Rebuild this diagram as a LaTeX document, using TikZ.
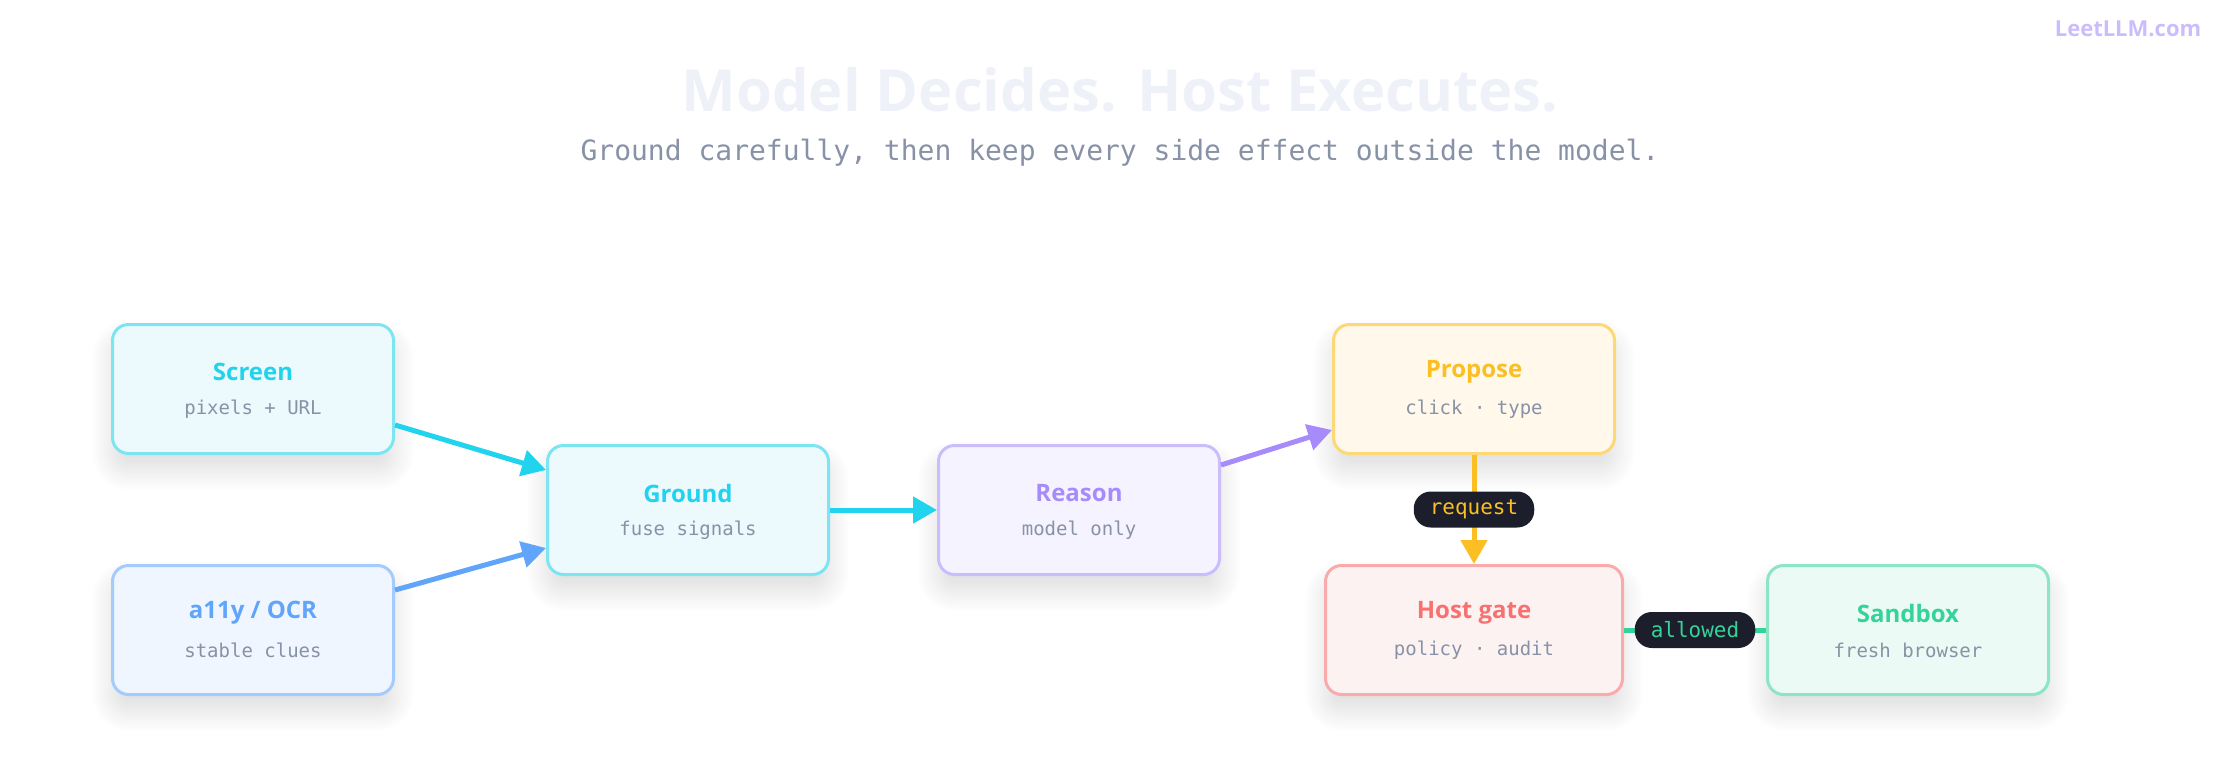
\documentclass[tikz,border=0pt]{standalone}
\usepackage{fontspec}
\setmainfont{Open Sans}
\newfontfamily\monof{DejaVu Sans Mono}
\newfontfamily\logof{DejaVu Sans}
\usetikzlibrary{shadows.blur,arrows.meta}
\definecolor{cyanS}{HTML}{22D3EE}\definecolor{cyanB}{HTML}{7DE4F2}\definecolor{cyanF}{HTML}{ECFAFE}
\definecolor{blueS}{HTML}{60A5FA}\definecolor{blueB}{HTML}{A3CBFB}\definecolor{blueF}{HTML}{EFF6FF}
\definecolor{purS}{HTML}{A78BFA}\definecolor{purB}{HTML}{CBBDFC}\definecolor{purF}{HTML}{F5F3FF}
\definecolor{yelS}{HTML}{FBBF24}\definecolor{yelB}{HTML}{FCD877}\definecolor{yelF}{HTML}{FFF8EB}
\definecolor{redS}{HTML}{F87171}\definecolor{redB}{HTML}{F9AAAA}\definecolor{redF}{HTML}{FDF2F2}
\definecolor{grnS}{HTML}{34D399}\definecolor{grnB}{HTML}{8CE5C4}\definecolor{grnF}{HTML}{EBFAF4}
\definecolor{grayT}{HTML}{8892A6}\definecolor{pill}{HTML}{1C1F2B}\definecolor{titleC}{HTML}{EEF2F8}
\begin{document}
\begin{tikzpicture}[x=1pt,y=-1pt,
 box/.style={draw=#1B,fill=#1F,line width=3pt,rounded corners=16pt,minimum width=281pt,minimum height=129pt,
   blur shadow={shadow xshift=0pt,shadow yshift=-16pt,shadow blur radius=22pt,shadow blur steps=20,shadow opacity=14}},
 ttl/.style={font=\bfseries\fontsize{24}{28}\selectfont,text=#1},
 sub/.style={font=\monof\fontsize{19}{22}\selectfont,text=grayT},
 con/.style={line width=5pt,draw=#1,-{Triangle[length=24pt,width=26pt]}},
 lab/.style={fill=pill,rounded corners=17pt,inner xsep=16pt,minimum height=36pt,font=\monof\fontsize{21}{24}\selectfont,text=#1}]
\useasboundingbox (0,0) rectangle (2240,780);
\node[font=\bfseries\fontsize{58}{64}\selectfont,text=titleC] (t) at (1120,90) {Model Decides. Host Executes.};
\node[font=\monof\fontsize{28}{32}\selectfont,text=grayT] (s) at (1120,153) {Ground carefully, then keep every side effect outside the model.};
\node[font=\bfseries\fontsize{22}{26}\selectfont,text=purB] (logo) at (2128,29) {LeetLLM.com};
\node[box=cyan] (screen) at (253,389) {};
\node[ttl=cyanS] at (253,372) {Screen};\node[sub] at (253,409) {pixels + URL};
\node[box=blue] (a11y) at (253,630) {};
\node[ttl=blueS] at (253,613) {a11y / OCR};\node[sub] at (253,650) {stable clues};
\node[box=cyan] (ground) at (688,510) {};
\node[ttl=cyanS] at (688,493) {Ground};\node[sub] at (688,530) {fuse signals};
\node[box=pur] (reason) at (1079,510) {};
\node[ttl=purS] at (1079,493) {Reason};\node[sub] at (1079,530) {model only};
\node[box=yel] (propose) at (1474,389) {};
\node[ttl=yelS] at (1474,372) {Propose};\node[sub] at (1474,409) {click · type};
\node[box=red,minimum width=297pt] (host) at (1474,630) {};
\node[ttl=redS] at (1474,613) {Host gate};\node[sub] at (1474,650) {policy · audit};
\node[box=grn] (sandbox) at (1908,630) {};
\node[ttl=grnS] at (1908,613) {Sandbox};\node[sub] at (1908,650) {fresh browser};
\draw[con=cyanS] (screen.east |- 0,425) -- (ground.west |- 0,470);
\draw[con=blueS] (a11y.east |- 0,590) -- (ground.west |- 0,548);
\draw[con=cyanS] (ground) -- (reason);
\draw[con=purS] (reason.east |- 0,465) -- (propose.west |- 0,430);
\draw[con=yelS] (propose) -- node[lab=yelS]{request} (host);
\draw[line width=5pt,draw=grnS] (host) -- node[lab=grnS]{allowed} (sandbox);
\end{tikzpicture}
\end{document}
